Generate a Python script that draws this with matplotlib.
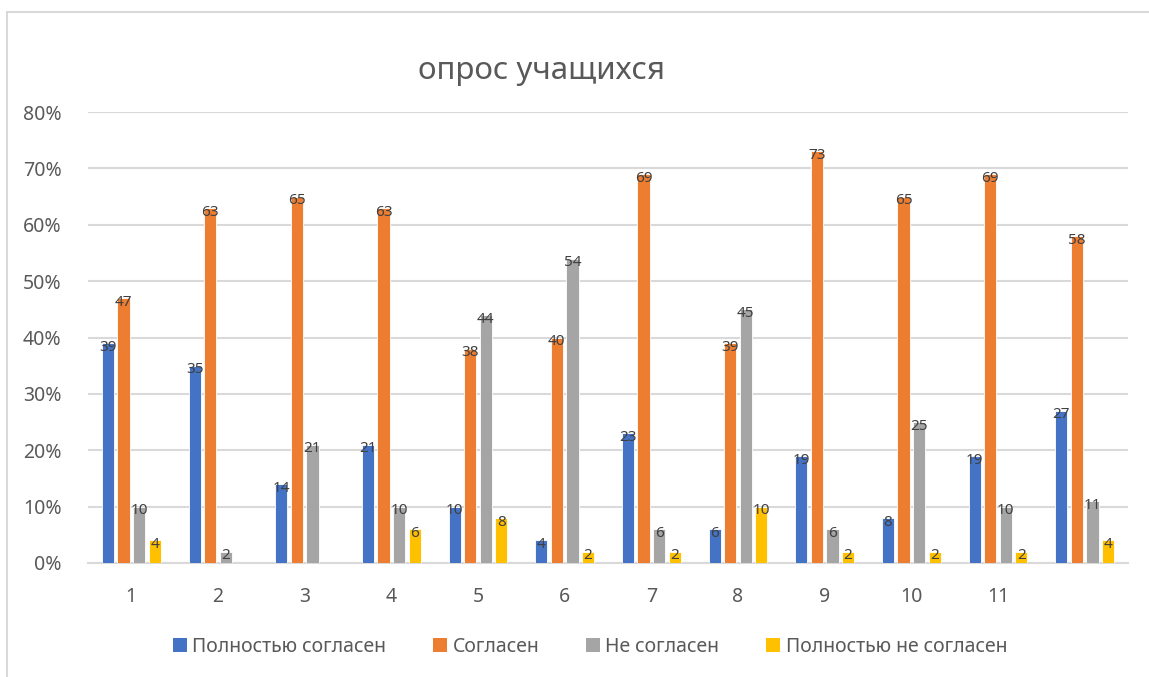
import numpy as np
import matplotlib
matplotlib.use("Agg")
import matplotlib.pyplot as plt
from matplotlib.patches import Rectangle, Patch

plt.rcParams['font.family'] = ['Noto Sans', 'DejaVu Sans']

categories = ['1', '2', '3', '4', '5', '6', '7', '8', '9', '10', '11', '']
series_names = ['Полностью согласен', 'Согласен', 'Не согласен', 'Полностью не согласен']
full_agree = [39, 35, 14, 21, 10, 4, 23, 6, 19, 8, 19, 27]
agree = [47, 63, 65, 63, 38, 40, 69, 39, 73, 65, 69, 58]
disagree = [10, 2, 21, 10, 44, 54, 6, 45, 6, 25, 10, 11]
full_disagree = [4, 0, 0, 6, 8, 2, 2, 10, 2, 2, 2, 4]
colors = ['#4472C4', '#ED7D31', '#A5A5A5', '#FFC000']
yticks = [0, 10, 20, 30, 40, 50, 60, 70, 80]

W, H = 1149, 677
fig = plt.figure(figsize=(W / 100, H / 100), dpi=100)
fig.patches.append(Rectangle((7 / W, -0.1), 1.2, (H - 12) / H + 0.1,
                             transform=fig.transFigure, fill=False,
                             edgecolor='#d9d9d9', linewidth=1.5))

ax = fig.add_axes([88 / W, 114 / H, 1040 / W, 451 / H])
x = np.arange(len(categories))
width = 0.14
step = 0.18
all_series = [full_agree, agree, disagree, full_disagree]
for i, (vals, name, col) in enumerate(zip(all_series, series_names, colors)):
    pos = x + (i - 1.5) * step
    ax.bar(pos, np.array(vals) / 100.0, width, color=col, edgecolor='white',
           linewidth=0.6, label=name, zorder=3)
    # value labels sit on the bar tops (zeros left out)
    for p, val in zip(pos, vals):
        if val > 0:
            ax.annotate(str(val), (p, val / 100.0), xytext=(0, -3),
                        textcoords='offset points', ha='center', va='center',
                        fontsize=11, color='#404040', zorder=4)

ax.set_xlim(-0.5, len(categories) - 0.5)
ax.set_ylim(0, 0.8)
ax.set_xticks(x)
ax.set_xticklabels(categories)
ax.set_yticks([t / 100 for t in yticks])
ax.set_yticklabels([f'{t}%' for t in yticks])
ax.tick_params(axis='both', length=0, labelsize=14, colors='#595959')
ax.tick_params(axis='y', pad=19)
ax.tick_params(axis='x', pad=17)
ax.grid(axis='y', color='#d9d9d9', linewidth=1.5, zorder=0)
for s in ['top', 'right', 'left']:
    ax.spines[s].set_visible(False)
ax.spines['bottom'].set_color('#d9d9d9')
ax.spines['bottom'].set_linewidth(1.5)

fig.text(541 / W, 1 - 71 / H, 'опрос учащихся', ha='center', va='center',
         fontsize=22.5, color='#595959')

handles = [Patch(facecolor=c, edgecolor='none') for c in colors]
fig.legend(handles, series_names, loc='center', bbox_to_anchor=(590 / W, 30 / H),
           ncol=4, frameon=False, fontsize=14, handlelength=0.7, handleheight=0.7,
           handletextpad=0.3, columnspacing=2.4, labelcolor='#595959')

fig.savefig('out.png', dpi=100)
